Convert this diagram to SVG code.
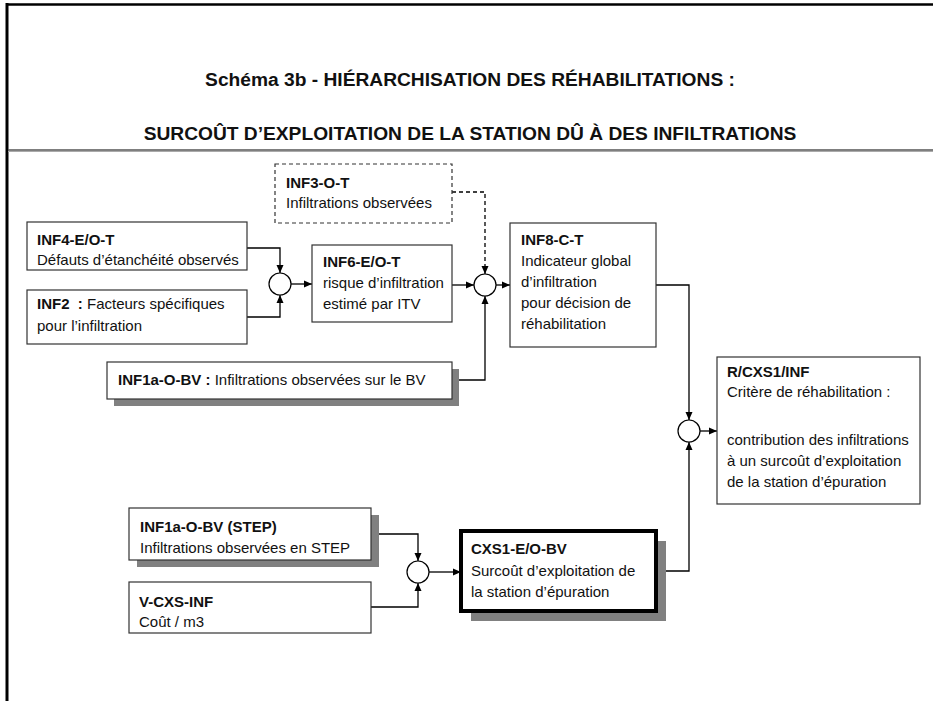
<svg xmlns="http://www.w3.org/2000/svg" width="933" height="701" viewBox="0 0 933 701">
<defs>
<style>
.t{font-family:"Liberation Sans",Arial,sans-serif;font-size:15px;fill:#111}
.b{font-weight:bold}
.title{font-family:"Liberation Sans",Arial,sans-serif;font-size:19.2px;font-weight:bold;fill:#111;text-anchor:middle}
.box{fill:#fff;stroke:#333;stroke-width:1.2}
.dash{fill:#fff;stroke:#333;stroke-width:1.2;stroke-dasharray:4,3}
.thick{fill:#fff;stroke:#000;stroke-width:4}
.sh{fill:#808080}
.c{fill:none;stroke:#000;stroke-width:1.3}
.cd{fill:none;stroke:#000;stroke-width:1.3;stroke-dasharray:4,3}
.circ{fill:#fff;stroke:#000;stroke-width:1.2}
</style>
<marker id="ah" markerUnits="userSpaceOnUse" markerWidth="8" markerHeight="8" refX="8" refY="4" orient="auto">
<path d="M0,0.5 L8,4 L0,7.5 z" fill="#000"/>
</marker>
</defs>
<rect width="933" height="701" fill="#fff"/>
<g id="frame">
<line x1="6" y1="4.5" x2="933" y2="4.5" stroke="#000" stroke-width="2.5"/>
<line x1="7" y1="3" x2="7" y2="701" stroke="#000" stroke-width="3"/>
<line x1="8" y1="150" x2="933" y2="150" stroke="#555" stroke-width="1.5"/>
<line x1="8" y1="151.5" x2="933" y2="151.5" stroke="#aaa" stroke-width="1.2"/>
<text class="title" x="470" y="86">Schéma 3b - HIÉRARCHISATION DES RÉHABILITATIONS :</text>
<text class="title" x="470" y="140">SURCOÛT D’EXPLOITATION DE LA STATION DÛ À DES INFILTRATIONS</text>
</g>
<g id="connectors">
<path class="c" d="M247,248 H280 V273" marker-end="url(#ah)"/>
<path class="c" d="M247,317 H280 V295" marker-end="url(#ah)"/>
<path class="c" d="M291,284 H312" marker-end="url(#ah)"/>
<path class="c" d="M452,285 H474" marker-end="url(#ah)"/>
<path class="cd" d="M452,192 H485 V274" marker-end="url(#ah)"/>
<path class="c" d="M459,380 H485 V296" marker-end="url(#ah)"/>
<path class="c" d="M496,285 H510" marker-end="url(#ah)"/>
<path class="c" d="M656,285 H689 V420" marker-end="url(#ah)"/>
<path class="c" d="M700,431 H717" marker-end="url(#ah)"/>
<path class="c" d="M656,571 H689 V442" marker-end="url(#ah)"/>
<path class="c" d="M371,534 H418 V561" marker-end="url(#ah)"/>
<path class="c" d="M371,607 H418 V583" marker-end="url(#ah)"/>
<path class="c" d="M429,572 H461" marker-end="url(#ah)"/>
</g>
<g id="junctions">
<circle class="circ" cx="280" cy="284" r="11"/>
<circle class="circ" cx="485" cy="285" r="11"/>
<circle class="circ" cx="689" cy="431" r="11"/>
<circle class="circ" cx="418" cy="572" r="11"/>
</g>
<g id="inf3">
<rect class="dash" x="275" y="164" width="177" height="59"/>
<text class="t b" x="286" y="188">INF3-O-T</text>
<text class="t" x="286" y="208">Infiltrations observées</text>
</g>
<g id="inf4">
<rect class="box" x="27" y="222" width="220" height="48"/>
<text class="t b" x="37" y="245">INF4-E/O-T</text>
<text class="t" x="37" y="265">Défauts d’étanchéité observés</text>
</g>
<g id="inf2">
<rect class="box" x="27" y="290" width="220" height="54"/>
<text class="t" x="37" y="309"><tspan class="b">INF2&#160; :</tspan> Facteurs spécifiques</text>
<text class="t" x="37" y="331">pour l’infiltration</text>
</g>
<g id="inf6">
<rect class="box" x="312" y="245" width="140" height="77"/>
<text class="t b" x="323" y="267">INF6-E/O-T</text>
<text class="t" x="323" y="288">risque d’infiltration</text>
<text class="t" x="323" y="309">estimé par ITV</text>
</g>
<g id="inf1a">
<rect class="sh" x="114" y="369" width="345" height="37"/>
<rect class="box" x="107" y="362" width="345" height="37"/>
<text class="t" x="118" y="385"><tspan class="b">INF1a-O-BV :</tspan> Infiltrations observées sur le BV</text>
</g>
<g id="inf8">
<rect class="box" x="510" y="223" width="146" height="124"/>
<text class="t b" x="521" y="245">INF8-C-T</text>
<text class="t" x="521" y="266">Indicateur global</text>
<text class="t" x="521" y="287">d’infiltration</text>
<text class="t" x="521" y="308">pour décision de</text>
<text class="t" x="521" y="329">réhabilitation</text>
</g>
<g id="rcxs1">
<rect class="box" x="717" y="357" width="203" height="147"/>
<text class="t b" x="727" y="377">R/CXS1/INF</text>
<text class="t" x="727" y="397">Critère de réhabilitation :</text>
<text class="t" x="727" y="445">contribution des infiltrations</text>
<text class="t" x="727" y="466">à un surcoût d’exploitation</text>
<text class="t" x="727" y="487">de la station d’épuration</text>
</g>
<g id="step">
<rect class="sh" x="137" y="515" width="242" height="52"/>
<rect class="box" x="129" y="508" width="242" height="52"/>
<text class="t b" x="140" y="532">INF1a-O-BV (STEP)</text>
<text class="t" x="140" y="553">Infiltrations observées en STEP</text>
</g>
<g id="vcxs">
<rect class="box" x="129" y="582" width="242" height="51"/>
<text class="t b" x="139" y="607">V-CXS-INF</text>
<text class="t" x="139" y="627">Coût / m3</text>
</g>
<g id="cxs1">
<rect class="sh" x="471" y="541" width="195" height="80"/>
<rect class="thick" x="461" y="531" width="195" height="80"/>
<text class="t b" x="471" y="554">CXS1-E/O-BV</text>
<text class="t" x="471" y="576">Surcoût d’exploitation de</text>
<text class="t" x="471" y="597">la station d’épuration</text>
</g>
</svg>
